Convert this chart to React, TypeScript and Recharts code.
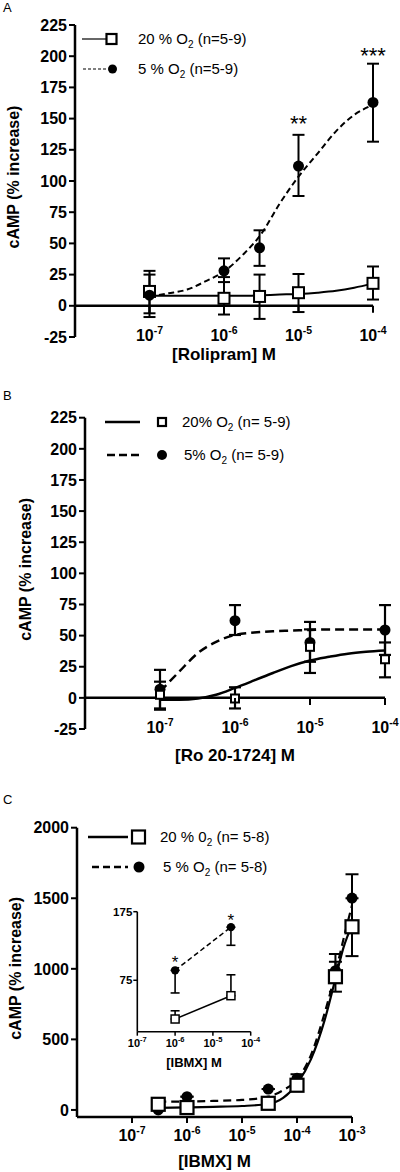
import React from "react";
import { ComposedChart, Line, Scatter, XAxis, YAxis, ErrorBar, ReferenceLine, Legend } from "recharts";

const FONT = "'Liberation Sans', Arial, Helvetica, sans-serif";

// A: Rolipram
const rolConc = [1e-7, 1e-6, 3e-6, 1e-5, 1e-4];
const rol20 = [11.5, 6, 7.5, 10.5, 18];
const rol20Lo = [-6, -7, -10.5, -5, 5];
const rol20Hi = [28, 23, 25, 25.5, 31.5];
const rol5 = [8.5, 28, 46.5, 112, 163];
const rol5Lo = [-9, 19, 32, 88, 131.5];
const rol5Hi = [25, 38, 60.5, 137, 194];
const fitConc = [1e-7, 1.8e-7, 3.2e-7, 5.6e-7, 1e-6, 1.8e-6, 3.2e-6, 5.6e-6, 1e-5, 1.8e-5, 3.2e-5, 5.6e-5, 1e-4];
const rolFit20 = [8, 8, 8, 8, 8, 8, 8.5, 9, 9.5, 10.5, 12, 14.5, 18];
const rolFit5 = [7.5, 10, 13, 19.5, 27.5, 41, 58, 82, 103.5, 122, 140, 153, 161];
const rolStarConc = [1e-5, 1e-4];
const rolStarY = [150, 205];
const rolStars = ["**", "***"];

// B: Ro 20-1724
const roConc = [1e-7, 1e-6, 1e-5, 1e-4];
const ro20 = [2.5, -0.5, 41, 31];
const ro20Lo = [-9.5, -8.5, 20, 16.5];
const ro20Hi = [13, 8.5, 55, 44.5];
const ro5 = [7, 62, 44.5, 54.5];
const ro5Lo = [-8.5, 50.5, 29, 34.5];
const ro5Hi = [22.5, 74.5, 61, 74.5];
const roFit20 = [-1.5, -1.5, -0.5, 2.5, 8, 14, 20, 25.5, 30, 33, 35.5, 37, 38];
const roFit5 = [5, 21, 36, 45, 50.5, 52.5, 53.5, 54, 54.5, 55, 55, 55, 55];

// C: IBMX
const ibmxConc = [3e-7, 1e-6, 3e-5, 1e-4, 5e-4, 1e-3];
const ibmx20 = [40, 17, 47, 175, 944, 1298];
const ibmx20Lo = [40, 17, 47, 140, 838, 1090];
const ibmx20Hi = [40, 17, 47, 215, 1105, 1500];
const ibmx5 = [0, 94, 148, 224, 987, 1501];
const ibmx5Lo = [0, 94, 148, 190, 920, 1330];
const ibmx5Hi = [0, 94, 148, 253, 1050, 1670];
const ibmxFitConc = [3e-7, 1e-6, 3e-6, 1e-5, 3e-5, 5.6e-5, 1e-4, 1.8e-4, 3.2e-4, 5e-4, 7e-4, 1e-3];
const ibmxFit20 = [14, 18, 22, 28, 42, 85, 185, 360, 640, 930, 1150, 1310];
const ibmxFit5 = [58, 60, 64, 71, 94, 140, 215, 390, 690, 970, 1210, 1450];

// C inset
const insetConc = [1e-6, 3e-5];
const inset20 = [18.5, 52.5];
const inset20Hi = [30.5, 83];
const inset5 = [89.5, 152.5];
const inset5Lo = [56.5, 126];
const insetStarY = [108, 168];

const namesA = ["20 % O₂ (n=5-9)", "5 % O₂ (n=5-9)"];
const namesB = ["20% O₂ (n= 5-9)", "5% O₂ (n= 5-9)"];
const namesC = ["20 % 0₂ (n= 5-8)", "5 % O₂ (n= 5-8)"];

const ticksA = [-25, 0, 25, 50, 75, 100, 125, 150, 175, 200, 225];
const ticksC = [0, 500, 1000, 1500, 2000];
const ticksInset = [75, 175];
const decadesA = [1e-7, 1e-6, 1e-5, 1e-4];
const decadesC = [1e-7, 1e-6, 1e-5, 1e-4, 1e-3];

const pts = (xs: number[], ys: number[], lo: number[], hi: number[]) =>
  xs.map((x, i) => ({ x, y: ys[i], err: [ys[i] - lo[i], hi[i] - ys[i]] }));
const curve = (xs: number[], ys: number[]) => xs.map((x, i) => ({ x, y: ys[i] }));
const stars = (xs: number[], ys: number[], s: string[]) => xs.map((x, i) => ({ x, y: ys[i], s: s[i] }));

const square = (size: number, sw = 2) => (p: any) => (
  <rect x={p.cx - size / 2} y={p.cy - size / 2} width={size} height={size} fill="#fff" stroke="#000" strokeWidth={sw} />
);
const dot = (r: number) => (p: any) => <circle cx={p.cx} cy={p.cy} r={r} fill="#000" />;
const starShape = (fs: number) => (p: any) => (
  <text x={p.cx} y={p.cy + fs * 0.58} textAnchor="middle" fontFamily={FONT} fontSize={fs} fill="#000">
    {p.payload.s}
  </text>
);

const LogTick = (p: any, zeroDy: number, mark: number, labelDy: number, fs: number, sup: number, sw: number) => {
  const exp = Math.round(Math.log10(p.payload.value));
  return (
    <g>
      <line x1={p.x} x2={p.x} y1={p.y + zeroDy} y2={p.y + zeroDy + mark} stroke="#000" strokeWidth={sw} />
      <text x={p.x} y={p.y + labelDy} textAnchor="middle" fontFamily={FONT} fontWeight="bold" fontSize={fs} fill="#000">
        10
        <tspan dy={-fs * 0.42} fontSize={sup}>
          {exp}
        </tspan>
      </text>
    </g>
  );
};

const xTitle = (text: string, dy: number, size: number) => ({
  content: (p: any) => {
    const vb = p.viewBox;
    return (
      <text x={vb.x + vb.width / 2} y={vb.y + dy} textAnchor="middle" fontFamily={FONT} fontWeight="bold" fontSize={size} fill="#000">
        {text}
      </text>
    );
  },
});

const yTitle = (cx: number, dy: number) => ({
  content: (p: any) => {
    const vb = p.viewBox;
    const cy = vb.y + vb.height / 2 + dy;
    const bx = cx + 5.7;
    return (
      <text x={bx} y={cy} transform={`rotate(-90 ${bx} ${cy})`} textAnchor="middle" fontFamily={FONT} fontWeight="bold" fontSize={16} fill="#000">
        cAMP (% increase)
      </text>
    );
  },
});

type KeyRow = { name: string; y: number; x1: number; x2: number; lw: number; dash?: string; sq: boolean; mx: number; ms: number; tx: number };

const Key = ({ rows }: { rows: KeyRow[] }) => (
  <svg width={400} height={130} style={{ display: "block" }}>
    {rows.map((r, i) => {
      const [pre, post] = r.name.split("₂");
      return (
        <g key={i}>
          <line x1={r.x1} x2={r.x2} y1={r.y} y2={r.y} stroke="#000" strokeWidth={r.lw} strokeDasharray={r.dash} />
          {r.sq ? (
            <rect x={r.mx - r.ms / 2} y={r.y - r.ms / 2} width={r.ms} height={r.ms} fill="#fff" stroke="#000" strokeWidth={2.2} />
          ) : (
            <circle cx={r.mx} cy={r.y} r={r.ms} fill="#000" />
          )}
          <text x={r.tx} y={r.y + 5} fontFamily={FONT} fontSize={15} fill="#000">
            {pre}
            <tspan dy={4} fontSize={10}>
              2
            </tspan>
            <tspan dy={-4}>{post}</tspan>
          </text>
        </g>
      );
    })}
  </svg>
);

const keyA: KeyRow[] = [
  { name: namesA[0], y: 39, x1: 82, x2: 106, lw: 1.2, sq: true, mx: 111.5, ms: 10, tx: 138 },
  { name: namesA[1], y: 69, x1: 83, x2: 108, lw: 1.2, dash: "3 2", sq: false, mx: 112.5, ms: 4.5, tx: 138 },
];
const keyB: KeyRow[] = [
  { name: namesB[0], y: 42, x1: 105, x2: 140, lw: 2.5, sq: true, mx: 162, ms: 8, tx: 182 },
  { name: namesB[1], y: 75, x1: 107, x2: 140, lw: 2.5, dash: "8 4", sq: false, mx: 162, ms: 5, tx: 184 },
];
const keyC: KeyRow[] = [
  { name: namesC[0], y: 77, x1: 88, x2: 128, lw: 2.5, sq: true, mx: 138.5, ms: 13, tx: 160 },
  { name: namesC[1], y: 107, x1: 92, x2: 128, lw: 2.5, dash: "7 4", sq: false, mx: 139, ms: 5.5, tx: 163 },
];

const yTick = (fs: number) => ({ fill: "#000", fontFamily: FONT, fontWeight: "bold", fontSize: fs });
const keyProps = { layout: "vertical" as const, align: "center" as const, verticalAlign: "middle" as const };

const letter = (top: number): React.CSSProperties => ({
  position: "absolute",
  left: 3,
  top,
  fontFamily: FONT,
  fontSize: 13,
  lineHeight: "13px",
});

export default function App() {
  return (
    <div style={{ position: "relative", width: 400, height: 1172, overflow: "hidden", background: "#fff" }}>
      <style>{"body{margin:0}"}</style>

      <div style={{ position: "absolute", top: 0, left: 0 }}>
        <ComposedChart width={400} height={380} margin={{ top: 25, right: 27, bottom: 23, left: 0 }}>
          <XAxis
            dataKey="x"
            type="number"
            scale="log"
            domain={[1e-8, 1e-4]}
            ticks={decadesA}
            interval={0}
            height={20}
            axisLine={false}
            tickLine={false}
            tickSize={0}
            tickMargin={0}
            tick={(p: any) => LogTick(p, -31.2, 7, 3.5, 16, 10.5, 2)}
            label={xTitle("[Rolipram] M", 23, 17)}
          />
          <YAxis
            type="number"
            domain={[-25, 225]}
            ticks={ticksA}
            interval={0}
            width={75}
            axisLine={{ stroke: "#000", strokeWidth: 2.5 }}
            tickLine={{ stroke: "#000", strokeWidth: 2 }}
            tick={yTick(16)}
            label={yTitle(13, -4)}
          />
          <ReferenceLine y={0} stroke="#000" strokeWidth={2.5} />
          <Line data={curve(fitConc, rolFit20)} dataKey="y" type="monotone" stroke="#000" strokeWidth={2} dot={false} isAnimationActive={false} />
          <Line data={curve(fitConc, rolFit5)} dataKey="y" type="monotone" stroke="#000" strokeWidth={2} strokeDasharray="6 3.5" dot={false} isAnimationActive={false} />
          <Scatter data={pts(rolConc, rol20, rol20Lo, rol20Hi)} dataKey="y" shape={square(11)} isAnimationActive={false}>
            <ErrorBar dataKey="err" direction="y" width={6} stroke="#000" strokeWidth={2} isAnimationActive={false} />
          </Scatter>
          <Scatter data={pts(rolConc, rol5, rol5Lo, rol5Hi)} dataKey="y" shape={dot(5.5)} isAnimationActive={false}>
            <ErrorBar dataKey="err" direction="y" width={6} stroke="#000" strokeWidth={2} isAnimationActive={false} />
          </Scatter>
          <Scatter data={stars(rolStarConc, rolStarY, rolStars)} dataKey="y" shape={starShape(22)} isAnimationActive={false} />
          <Legend {...keyProps} wrapperStyle={{ top: 0, left: 0, width: 400, height: 130 }} content={() => <Key rows={keyA} />} />
        </ComposedChart>
      </div>

      <div style={{ position: "absolute", top: 380, left: 0 }}>
        <ComposedChart width={400} height={400} margin={{ top: 37.7, right: 15, bottom: 31, left: 0 }}>
          <XAxis
            dataKey="x"
            type="number"
            scale="log"
            domain={[1e-8, 1e-4]}
            ticks={decadesA}
            interval={0}
            height={20}
            axisLine={false}
            tickLine={false}
            tickSize={0}
            tickMargin={0}
            tick={(p: any) => LogTick(p, -31.1, 7, 3.5, 16, 10.5, 2)}
            label={xTitle("[Ro 20-1724] M", 32, 17)}
          />
          <YAxis
            type="number"
            domain={[-25, 225]}
            ticks={ticksA}
            interval={0}
            width={85}
            axisLine={{ stroke: "#000", strokeWidth: 2.5 }}
            tickLine={{ stroke: "#000", strokeWidth: 2 }}
            tick={yTick(16)}
            label={yTitle(25, -4)}
          />
          <ReferenceLine y={0} stroke="#000" strokeWidth={2.5} />
          <Line data={curve(fitConc, roFit20)} dataKey="y" type="monotone" stroke="#000" strokeWidth={2.5} dot={false} isAnimationActive={false} />
          <Line data={curve(fitConc, roFit5)} dataKey="y" type="monotone" stroke="#000" strokeWidth={2.5} strokeDasharray="9 5" dot={false} isAnimationActive={false} />
          <Scatter data={pts(roConc, ro5, ro5Lo, ro5Hi)} dataKey="y" shape={dot(5.5)} isAnimationActive={false}>
            <ErrorBar dataKey="err" direction="y" width={6} stroke="#000" strokeWidth={2.2} isAnimationActive={false} />
          </Scatter>
          <Scatter data={pts(roConc, ro20, ro20Lo, ro20Hi)} dataKey="y" shape={square(8)} isAnimationActive={false}>
            <ErrorBar dataKey="err" direction="y" width={6} stroke="#000" strokeWidth={2.2} isAnimationActive={false} />
          </Scatter>
          <Legend {...keyProps} wrapperStyle={{ top: 0, left: 0, width: 400, height: 130 }} content={() => <Key rows={keyB} />} />
        </ComposedChart>
      </div>

      <div style={{ position: "absolute", top: 760, left: 0 }}>
        <ComposedChart width={400} height={412} margin={{ top: 67.7, right: 48, bottom: 35, left: 0 }}>
          <XAxis
            dataKey="x"
            type="number"
            scale="log"
            domain={[1e-8, 1e-3]}
            ticks={decadesC}
            interval={0}
            height={20}
            axisLine={{ stroke: "#000", strokeWidth: 2.5 }}
            tickLine={false}
            tickSize={0}
            tickMargin={0}
            tick={(p: any) => LogTick(p, 0, 6, 23.5, 16, 10.5, 2)}
            label={xTitle("[IBMX] M", 50, 17)}
          />
          <YAxis
            type="number"
            domain={[-50, 2000]}
            ticks={ticksC}
            interval={0}
            width={77}
            axisLine={{ stroke: "#000", strokeWidth: 2.5 }}
            tickLine={{ stroke: "#000", strokeWidth: 2 }}
            tick={yTick(16)}
            label={yTitle(15, -4)}
          />
          <Line data={curve(ibmxFitConc, ibmxFit20)} dataKey="y" type="monotone" stroke="#000" strokeWidth={2.2} dot={false} isAnimationActive={false} />
          <Line data={curve(ibmxFitConc, ibmxFit5)} dataKey="y" type="monotone" stroke="#000" strokeWidth={2.2} strokeDasharray="8 5" dot={false} isAnimationActive={false} />
          <Scatter data={pts(ibmxConc, ibmx5, ibmx5Lo, ibmx5Hi)} dataKey="y" shape={dot(5.5)} isAnimationActive={false}>
            <ErrorBar dataKey="err" direction="y" width={6.5} stroke="#000" strokeWidth={2} isAnimationActive={false} />
          </Scatter>
          <Scatter data={pts(ibmxConc, ibmx20, ibmx20Lo, ibmx20Hi)} dataKey="y" shape={square(13, 2.2)} isAnimationActive={false}>
            <ErrorBar dataKey="err" direction="y" width={6.5} stroke="#000" strokeWidth={2} isAnimationActive={false} />
          </Scatter>
          <Legend {...keyProps} wrapperStyle={{ top: 0, left: 0, width: 400, height: 130 }} content={() => <Key rows={keyC} />} />
        </ComposedChart>
      </div>

      <div style={{ position: "absolute", top: 880, left: 100 }}>
        <ComposedChart width={170} height={200} margin={{ top: 31.7, right: 19.3, bottom: 28.3, left: 0 }}>
          <XAxis
            dataKey="x"
            type="number"
            scale="log"
            domain={[1e-7, 1e-4]}
            ticks={decadesA}
            interval={0}
            height={20}
            axisLine={{ stroke: "#000", strokeWidth: 1.6 }}
            tickLine={false}
            tickSize={0}
            tickMargin={0}
            tick={(p: any) => LogTick(p, 0, 4, 15, 11, 7.5, 1.5)}
            label={xTitle("[IBMX] M", 35, 13)}
          />
          <YAxis
            type="number"
            domain={[0, 175]}
            ticks={ticksInset}
            interval={0}
            width={37.3}
            tickSize={4}
            tickMargin={1}
            axisLine={{ stroke: "#000", strokeWidth: 1.6 }}
            tickLine={{ stroke: "#000", strokeWidth: 1.5 }}
            tick={yTick(11.5)}
          />
          <Line data={curve(insetConc, inset20)} dataKey="y" type="linear" stroke="#000" strokeWidth={1.5} dot={false} isAnimationActive={false} />
          <Line data={curve(insetConc, inset5)} dataKey="y" type="linear" stroke="#000" strokeWidth={1.5} strokeDasharray="5 3" dot={false} isAnimationActive={false} />
          <Scatter data={pts(insetConc, inset5, inset5Lo, inset5)} dataKey="y" shape={dot(4.2)} isAnimationActive={false}>
            <ErrorBar dataKey="err" direction="y" width={4.5} stroke="#000" strokeWidth={1.6} isAnimationActive={false} />
          </Scatter>
          <Scatter data={pts(insetConc, inset20, inset20, inset20Hi)} dataKey="y" shape={square(8, 1.5)} isAnimationActive={false}>
            <ErrorBar dataKey="err" direction="y" width={4.5} stroke="#000" strokeWidth={1.6} isAnimationActive={false} />
          </Scatter>
          <Scatter data={stars(insetConc, insetStarY, ["*", "*"])} dataKey="y" shape={starShape(17)} isAnimationActive={false} />
        </ComposedChart>
      </div>

      <div style={letter(1.3)}>A</div>
      <div style={letter(389)}>B</div>
      <div style={letter(793)}>C</div>
    </div>
  );
}
